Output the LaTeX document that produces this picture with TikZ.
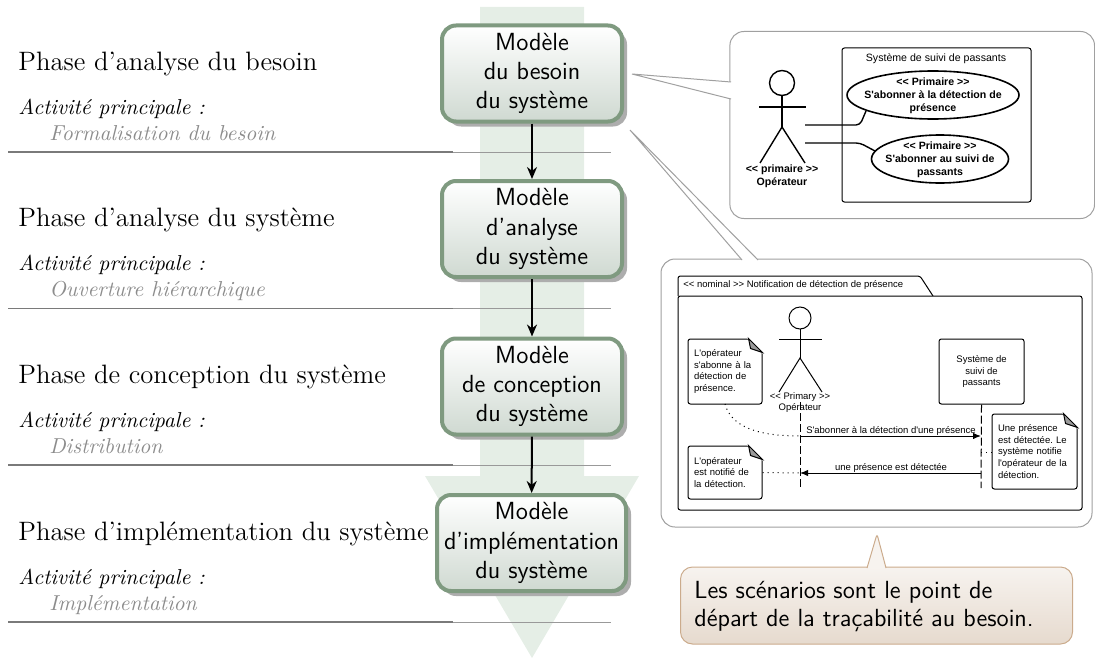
\documentclass[tikz,border=0pt]{standalone}
\usepackage{fontspec}
\usetikzlibrary{arrows.meta,calc,shadows,shapes.geometric}
\newfontfamily\umlfont{Liberation Sans}
\definecolor{flowgreen}{HTML}{E5EEE6}
\definecolor{modelgreen}{HTML}{7F9A80}
\definecolor{modelshade}{HTML}{CFD9D1}
\definecolor{bubblegray}{HTML}{A0A0A0}
\definecolor{remarkline}{HTML}{CBAB8C}
\definecolor{remarktop}{HTML}{F7F3EF}
\definecolor{remarkbottom}{HTML}{E6DACE}
\definecolor{foldgray}{HTML}{9A9A9A}
\tikzset{
  phasetext/.style={anchor=base west,inner sep=0pt,font=\fontsize{13.3}{16}\selectfont},
  activitytext/.style={anchor=base west,inner sep=0pt,font=\fontsize{10.8}{12}\selectfont\itshape},
  detailtext/.style={activitytext,text=black!45},
  rule/.style={draw=black!40,line width=0.5pt},
  rulestrong/.style={draw=black!52,line width=0.8pt},
  model/.style={draw=modelgreen,line width=2pt,rounded corners=7pt,top color=white,bottom color=modelshade,
    minimum width=90pt,minimum height=48pt,align=center,inner sep=0pt,
    font=\sffamily\fontsize{12.4}{14.7}\selectfont,
    drop shadow={shadow xshift=2.5pt,shadow yshift=-2.5pt,fill=black!32,opacity=1}},
  flow/.style={-{Stealth[length=6pt,width=5pt]},line width=1pt},
  bubble/.style={draw=bubblegray,fill=white,line width=0.5pt,rounded corners=7pt,inner sep=0pt},
  bubbletail/.style={draw=bubblegray,fill=white,line width=0.5pt},
  remark/.style={draw=remarkline,line width=0.5pt,rounded corners=6pt,top color=remarktop,bottom color=remarkbottom,
    minimum width=196pt,minimum height=38.5pt,inner sep=0pt},
  remarktxt/.style={inner sep=0pt,align=left,anchor=west,font=\sffamily\fontsize{12.4}{14}\selectfont},
  umlbox/.style={draw,line width=0.5pt,rounded corners=1.2pt,fill=white,inner sep=0pt},
  umlline/.style={draw,line width=0.7pt},
  umlthin/.style={draw,line width=0.5pt},
  usecase/.style={draw,ellipse,line width=0.8pt,fill=white,inner sep=0pt},
  casetext/.style={inner sep=0pt,align=center,font=\umlfont\bfseries\fontsize{5.3}{6.4}\selectfont},
  seqtext/.style={inner sep=0pt,align=center,font=\umlfont\fontsize{4.75}{5.8}\selectfont},
  seqnote/.style={umlbox,inner xsep=3pt,align=left,font=\umlfont\fontsize{4.75}{5.8}\selectfont},
  lifeline/.style={draw,line width=0.5pt,dash pattern=on 4pt off 1.5pt},
  notelink/.style={draw,line width=0.5pt,dotted},
  message/.style={draw,line width=0.5pt,-{Latex[length=4pt,width=3.2pt]}},
}
\newcommand{\foldcorner}[1]{
  \filldraw[white,line width=0.7pt] ($(#1.north east)+(-14,0)$) -- (#1.north east) -- ($(#1.north east)+(0,14)$) -- cycle;
  \draw[fill=foldgray,line width=0.5pt] ($(#1.north east)+(-14,0)$) -- ($(#1.north east)+(0,14)$) -- ($(#1.north east)+(-12,10)$) -- cycle;
}
\frenchspacing
\begin{document}
\begin{tikzpicture}[x=0.5pt,y=-0.5pt]
  \useasboundingbox (0,0) rectangle (1095,658);
  % fleche de fond
  \fill[flowgreen] (480,7) -- (584,7) -- (584,476) -- (639,476) -- (532,658) -- (425,476) -- (480,476) -- cycle;
  % phases
  \foreach \id/\base/\phasename/\detail in {
      a/70/Phase d’analyse du besoin/Formalisation du besoin,
      b/226.5/Phase d’analyse du système/Ouverture hiérarchique,
      c/383/Phase de conception du système/Distribution,
      d/540/Phase d’implémentation du système/Implémentation} {
    \node[phasetext] (phase\id) at (18,\base) {\phasename};
    \node[activitytext] (activity\id) at (18,\base+44) {Activité principale :};
    \node[detailtext] (detail\id) at (49,\base+70) {\detail};
    \coordinate (rulestart\id) at (8,\base+82);
    \coordinate (rulemid\id) at (453,\base+82);
    \coordinate (ruleend\id) at (611,\base+82);
    \draw[rule] (rulestart\id) -- (ruleend\id);
    \draw[rulestrong] (rulestart\id) -- (rulemid\id);
  }
  % modeles
  \node[model] (besoin) at (532,73.5) {Modèle\\du besoin\\du système};
  \node[model] (analyse) at (532,229) {Modèle\\d’analyse\\du système};
  \node[model] (conception) at (532,386.5) {Modèle\\de conception\\du système};
  \node[model,minimum width=94.5pt] (implementation) at (531.5,543) {Modèle\\d’implémentation\\du système};
  \draw[flow] (besoin) -- (analyse);
  \draw[flow] (analyse) -- (conception);
  \draw[flow] (conception) -- (implementation);
  % bulle cas d'utilisation
  \node[bubble,minimum width=182.3pt,minimum height=93.5pt] (casebubble) at (912.2,125) {};
  \coordinate (casetip) at (632,74);
  \coordinate (casetop) at (731,82);
  \coordinate (casebottom) at (731,99);
  \draw[bubbletail] (casetop) -- (casetip) -- (casebottom);
  \node[umlbox,minimum width=94.5pt,minimum height=77pt] (system) at (936.5,125) {};
  \node[seqtext,font=\umlfont\fontsize{5.3}{7}\selectfont] (systemname) at (936,58.5) {Système de suivi de passants};
  \node[usecase,minimum width=86pt,minimum height=24pt] (subscribe) at (933,95) {};
  \node[casetext] (subscribetext) at (933,95.5) {<< Primaire >>\\S'abonner à la détection de\\présence};
  \node[usecase,minimum width=68.5pt,minimum height=24pt] (follow) at (940,159) {};
  \node[casetext] (followtext) at (940,159.5) {<< Primaire >>\\S'abonner au suivi de\\passants};
  \draw[umlline] (782,83) circle (12.5);
  \coordinate (actorneck) at (782,95.5);
  \coordinate (actorhip) at (782,127);
  \draw[umlline] (actorneck) -- (actorhip);
  \draw[umlline] (759,107) -- (806,107);
  \draw[umlline] (760,163) -- (actorhip) -- (805,163);
  \node[casetext] (operator) at (782,176.5) {<< primaire >>\\Opérateur};
  \coordinate (operatorone) at (805,125);
  \coordinate (operatortwo) at (805,143);
  \draw[umlline,rounded corners=2pt] (operatorone) -- (860,125) -- (866,111);
  \draw[umlline,rounded corners=2pt] (operatortwo) -- (860,143) -- (875,151);
  % bulle scenario
  \node[bubble,minimum width=215.5pt,minimum height=134pt] (seqbubble) at (876.5,393) {};
  \coordinate (seqtip) at (630,130);
  \coordinate (seqleft) at (742,260);
  \coordinate (seqright) at (758,260);
  \draw[bubbletail] (seqleft) -- (seqtip) -- (seqright);
  \draw[umlbox] (678,296) -- (678,276) -- (920,276) -- (933,296);
  \node[umlbox,minimum width=202pt,minimum height=107pt] (frame) at (880,403) {};
  \node[seqtext,anchor=west] (frametitle) at (683,285) {<< nominal >> Notification de détection de présence};
  % acteur
  \draw[umlthin] (800,318) circle (11);
  \coordinate (personneck) at (800,329);
  \coordinate (personhip) at (800,358);
  \draw[umlthin] (personneck) -- (personhip);
  \draw[umlthin] (779,339) -- (822,339);
  \draw[umlthin] (779,392) -- (personhip) -- (822,392);
  \node[seqtext] (person) at (800,402.5) {<< Primary >>\\Opérateur};
  \node[umlbox,seqtext,minimum width=42.5pt,minimum height=32.5pt] (tracker) at (981.5,371.5) {Système de\\suivi de\\passants};
  \coordinate (persontop) at (800,402);
  \coordinate (personend) at (800,488);
  \coordinate (trackerend) at (981,488);
  \path[lifeline] (persontop) -- (personend);
  \path[lifeline] (tracker.south) -- (trackerend);
  % notes
  \node[seqnote,minimum width=37pt,minimum height=32.5pt,text width=31pt] (noteone) at (725,371.5) {L'opérateur\\s'abonne à la\\détection de\\présence.};
  \node[seqnote,minimum width=37pt,minimum height=26.5pt,text width=31pt] (notetwo) at (725,472.5) {L'opérateur\\est notifié de\\la détection.};
  \node[seqnote,minimum width=42.5pt,minimum height=37.5pt,text width=36.5pt] (notethree) at (1034.5,451.5) {Une présence\\est détectée. Le\\système notifie\\l'opérateur de la\\détection.};
  \foreach \notename in {noteone,notetwo,notethree} {
    \foldcorner{\notename}
  }
  % messages
  \coordinate (askstart) at (800,436);
  \coordinate (askend) at (981,436);
  \coordinate (tellstart) at (981,473);
  \coordinate (tellend) at (800,473);
  \coordinate (linkthree) at (981,452);
  \path[message] (askstart) -- (askend);
  \path[message] (tellstart) -- (tellend);
  \node[seqtext] (asklabel) at (891,431) {S'abonner à la détection d'une présence};
  \node[seqtext] (telllabel) at (891,468) {une présence est détectée};
  \path[notelink] (725,404) .. controls (732,430) and (765,436) .. (askstart);
  \path[notelink] (notetwo.east) -- (tellend);
  \path[notelink] (notethree.west |- linkthree) -- (linkthree);
  % remarque
  \node[remark] (remarknote) at (876.5,605.5) {};
  \node[remarktxt] (remarktext) at (694,606.5) {Les scénarios sont le point de\\départ de la traçabilité au besoin.};
  \coordinate (remarktip) at (877,534);
  \coordinate (remarkleft) at (867,568);
  \coordinate (remarkright) at (886,568);
  \draw[draw=remarkline,fill=remarktop,line width=0.5pt,rounded corners=1.5pt] (remarkleft) -- (remarktip) -- (remarkright);
\end{tikzpicture}
\end{document}
